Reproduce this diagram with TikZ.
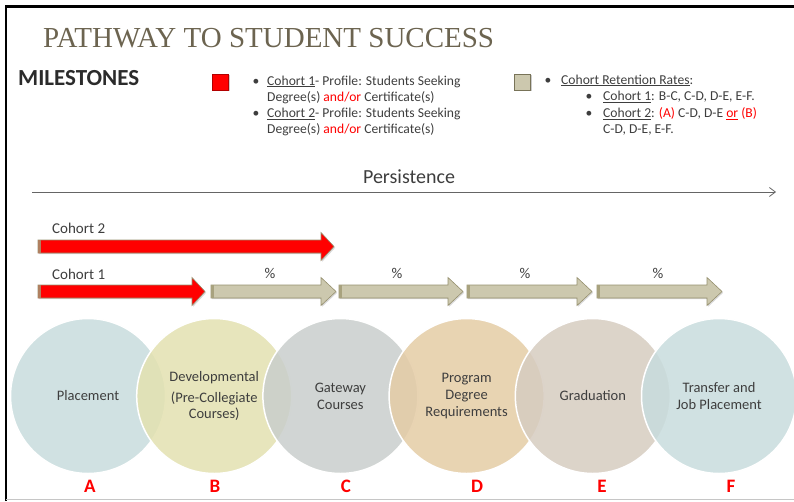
\documentclass[tikz,border=0pt]{standalone}
\usepackage{fontspec}
\setmainfont{Carlito}
\newfontfamily\titlefont{Liberation Serif}
\usetikzlibrary{arrows.meta,shadows}
\definecolor{txtgray}{RGB}{62,62,62}
\definecolor{titlebrown}{RGB}{108,100,80}
\definecolor{edgeolive}{RGB}{150,144,110}
\definecolor{ratefill}{RGB}{204,200,174}
\definecolor{rateend}{RGB}{168,162,126}
\definecolor{redend}{RGB}{176,128,96}
\definecolor{circA}{RGB}{200,220,221}
\definecolor{circB}{RGB}{227,225,176}
\definecolor{circC}{RGB}{201,206,204}
\definecolor{circD}{RGB}{228,204,165}
\definecolor{circE}{RGB}{214,204,192}
\definecolor{circF}{RGB}{200,220,221}
\tikzset{
    txt/.style={text=txtgray, inner sep=0pt, anchor=base west, font=\fontsize{13.6}{16}\selectfont},
    bul/.style={txt, anchor=base},
    cohortlbl/.style={txt, font=\fontsize{15}{18}\selectfont},
    pct/.style={txt, anchor=base, font=\fontsize{15}{18}\selectfont},
    cohortarrow/.style={fill=red, draw=edgeolive, line width=0.6pt,
        drop shadow={shadow xshift=1.2pt, shadow yshift=-1.2pt, opacity=0.3}},
    ratearrow/.style={fill=ratefill, draw=edgeolive, line width=0.6pt,
        drop shadow={shadow xshift=1.2pt, shadow yshift=-1.2pt, opacity=0.3}},
    stage/.style={circle, minimum size=155pt, inner sep=0pt, draw=white, line width=1.5pt,
        fill opacity=0.85, text opacity=1, text=txtgray, align=center,
        font=\fontsize{14.5}{16.7}\selectfont},
    letter/.style={text=red, inner sep=0pt, anchor=base, font=\fontsize{19}{19}\selectfont\bfseries},
    keybox/.style={minimum size=16pt, inner sep=0pt, line width=0.6pt,
        drop shadow={shadow xshift=1.2pt, shadow yshift=-1.2pt, opacity=0.4}},
}

\begin{document}
\begin{tikzpicture}[x=1pt, y=-1pt]
    \useasboundingbox (0,0) rectangle (794,501);

    % Frame
    \draw[line width=2.6pt] (6,501) -- (6,6.3) -- (794,6.3);
    \draw[gray!45, line width=1.5pt] (6,499.5) -- (794,499.5);

    % Title
    \node[anchor=base west, inner sep=0pt, text=titlebrown, font=\titlefont\fontsize{29}{31}\selectfont]
        (title) at (43,47) {PATHWAY TO STUDENT SUCCESS};
    \node[anchor=base west, inner sep=0pt, text=txtgray!70!black, font=\fontsize{23}{25}\selectfont\bfseries]
        (mile) at (18,85) {MILESTONES};

    % Legend: cohort profiles
    \node[keybox, fill=red, draw=red!70!black] (keyred) at (220.5,82) {};
    \node[bul] (b1) at (256,85) {\textbullet};
    \node[txt] (l1) at (267,85) {\underline{Cohort 1}- Profile: Students Seeking};
    \node[txt] (l2) at (267,101.2) {Degree(s) \textcolor{red}{and/or} Certificate(s)};
    \node[bul] (b2) at (256,117.4) {\textbullet};
    \node[txt] (l3) at (267,117.4) {\underline{Cohort 2}- Profile: Students Seeking};
    \node[txt] (l4) at (267,133.6) {Degree(s) \textcolor{red}{and/or} Certificate(s)};

    % Legend: retention rates
    \node[keybox, fill=ratefill, draw=edgeolive!80!black] (keytan) at (522.5,82) {};
    \node[bul] (b3) at (548,84) {\textbullet};
    \node[txt] (r1) at (561,84) {\underline{Cohort Retention Rates}:};
    \node[bul] (b4) at (589,100.7) {\textbullet};
    \node[txt] (r2) at (603,100.7) {\underline{Cohort 1}: B-C, C-D, D-E, E-F.};
    \node[bul] (b5) at (589,117.3) {\textbullet};
    \node[txt] (r3) at (603,117.3) {\underline{Cohort 2}: \textcolor{red}{(A)} C-D, D-E \textcolor{red}{\underline{or} (B)}};
    \node[txt] (r4) at (603,133.6) {C-D, D-E, E-F.};

    % Persistence axis
    \node[txt, anchor=base, font=\fontsize{20}{22}\selectfont] (pers) at (409,183) {Persistence};
    \coordinate (axL) at (32,192);
    \coordinate (axR) at (776,192);
    \draw[txtgray!80, line width=0.8pt, -{Straight Barb[length=6pt, width=9pt]}] (axL) -- (axR);

    % Cohort arrows
    \node[cohortlbl] (c2) at (52,233) {Cohort 2};
    \draw[cohortarrow] (38,240) -- (321,240) -- (321,232.5) -- (334,246.5) -- (321,260.5) -- (321,253) -- (38,253) -- cycle;
    \fill[redend] (38,240.3) rectangle (41,252.7);
    \node[cohortlbl] (c1) at (52,279) {Cohort 1};
    \draw[cohortarrow] (38,285) -- (192,285) -- (192,277.5) -- (205,291.5) -- (192,305.5) -- (192,298) -- (38,298) -- cycle;
    \fill[redend] (38,285.3) rectangle (41,297.7);

    % Retention arrows
    \foreach \xa/\xb/\xp in {211/336/270, 339/463/397, 467/592/525, 597/722/658} {
        \draw[ratearrow] (\xa,285) -- (\xb-15,285) -- (\xb-15,277.5) -- (\xb,291.5) -- (\xb-15,305.5) -- (\xb-15,298) -- (\xa,298) -- cycle;
        \fill[rateend] (\xa,285.3) rectangle (\xa+2.5,297.7);
        \node[pct] (p\xa) at (\xp,278) {\%};
    }

    % Stages
    \node[stage, fill=circA] (A) at (88,396) {Placement};
    \node[stage, fill=circB] (B) at (214.2,396) {Developmental\\[4pt](Pre-Collegiate\\Courses)};
    \node[stage, fill=circC] (C) at (340.4,396) {Gateway\\Courses};
    \node[stage, fill=circD] (D) at (466.6,396) {Program\\Degree\\Requirements};
    \node[stage, fill=circE] (E) at (592.8,396) {Graduation};
    \node[stage, fill=circF] (F) at (719,396) {Transfer and\\Job Placement};

    % Milestone letters
    \foreach \lx/\lt in {90/A, 215/B, 346/C, 477/D, 602/E, 731/F} {
        \node[letter] (lbl\lt) at (\lx,492) {\lt};
    }
\end{tikzpicture}
\end{document}
